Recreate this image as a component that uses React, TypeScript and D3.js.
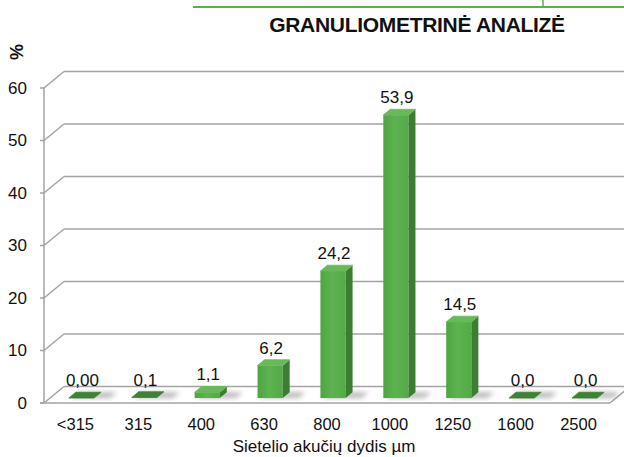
import React from 'react';
import * as d3 from 'd3';

const categories = ['<315', '315', '400', '630', '800', '1000', '1250', '1600', '2500'];
const values = [0, 0.1, 1.1, 6.2, 24.2, 53.9, 14.5, 0, 0];
const valueLabels = ['0,00', '0,1', '1,1', '6,2', '24,2', '53,9', '14,5', '0,0', '0,0'];
const yTicks = [0, 10, 20, 30, 40, 50, 60];

const W = 624;
const H = 457;
const FONT = 'Liberation Sans, Arial, sans-serif';

// oblique depth of the 3D box
const depthX = 20;
const depthY = -16.5;
const f0 = 0.3;
const f1 = 0.65;

export default function App() {
    const x = d3.scaleBand<string>()
        .domain(categories)
        .range([44, 610])
        .paddingInner(0.6)
        .paddingOuter(0.3);

    const y = d3.scaleLinear()
        .domain([0, 60])
        .range([403, 88]);

    const bw = x.bandwidth();
    const ddx = (f1 - f0) * depthX;
    const ddy = (f1 - f0) * depthY;
    const gridColor = '#a3a3a3';

    const pts = (p: number[][]) => p.map(d => d.join(',')).join(' ');

    return (
        <svg width={W} height={H} style={{ position: 'absolute', left: 0, top: 0, background: '#fff' }}>
            <defs>
                <linearGradient id="front" x1="0" x2="1" y1="0" y2="0">
                    <stop offset="0" stopColor="#4fa443" />
                    <stop offset="0.45" stopColor="#5db34f" />
                    <stop offset="1" stopColor="#54aa48" />
                </linearGradient>
                <filter id="blur" x="-50%" y="-50%" width="200%" height="200%">
                    <feGaussianBlur stdDeviation="2.5" />
                </filter>
            </defs>

            {/* top green rule */}
            <line x1={193} x2={W} y1={7} y2={7} stroke="#5aae4a" strokeWidth={2} />
            <line x1={543} x2={543} y1={0} y2={7} stroke="#5aae4a" strokeWidth={1.5} />

            <text x={417} y={32} textAnchor="middle" fontFamily={FONT} fontWeight="bold"
                  fontSize={21} letterSpacing={-0.3} fill="#111">GRANULIOMETRINĖ ANALIZĖ</text>

            <text transform="translate(23,52) rotate(-90)" textAnchor="middle" fontFamily={FONT}
                  fontWeight="bold" fontSize={18} fill="#111">%</text>

            {/* walls / gridlines */}
            {yTicks.map(t => (
                <g key={t}>
                    <line x1={40} x2={44} y1={y(t)} y2={y(t)} stroke={gridColor} strokeWidth={1.5} />
                    <line x1={44} y1={y(t)} x2={44 + depthX} y2={y(t) + depthY} stroke={gridColor} strokeWidth={1.5} />
                    <line x1={44 + depthX} y1={y(t) + depthY} x2={W + 10} y2={y(t) + depthY} stroke={gridColor} strokeWidth={1.5} />
                    <text x={27} y={y(t)} dy="0.35em" textAnchor="end" fontFamily={FONT} fontSize={17} fill="#111">{t}</text>
                </g>
            ))}
            <line x1={44} x2={44} y1={y(60)} y2={y(0)} stroke={gridColor} strokeWidth={1.5} />
            <line x1={40} x2={610} y1={y(0)} y2={y(0)} stroke={gridColor} strokeWidth={1.5} />
            <line x1={610} y1={y(0)} x2={610 + depthX} y2={y(0) + depthY} stroke={gridColor} strokeWidth={1.5} />

            {/* shadows on floor */}
            {categories.map((c, i) => {
                const x0 = (x(c) as number) + f0 * depthX;
                const yb = y(0) + f0 * depthY;
                return (
                    <polygon key={'s' + i} filter="url(#blur)" fill="#8a8a8a" opacity={0.6}
                             points={pts([[x0 + 2, yb], [x0 + bw + 16, yb], [x0 + bw + ddx + 16, yb + ddy], [x0 + ddx + 2, yb + ddy]])} />
                );
            })}

            {/* bars */}
            {categories.map((c, i) => {
                const v = values[i];
                const x0 = (x(c) as number) + f0 * depthX;
                const x1 = x0 + bw;
                const yb = y(0) + f0 * depthY;
                const yt = y(v) + f0 * depthY;
                const flat = yb - yt < 1;
                return (
                    <g key={c}>
                        {!flat && (
                            <>
                                <rect x={x0} y={yt} width={bw} height={yb - yt} fill="url(#front)" />
                                <polygon fill="#3b7e32"
                                         points={pts([[x1, yb], [x1 + ddx, yb + ddy], [x1 + ddx, yt + ddy], [x1, yt]])} />
                            </>
                        )}
                        <polygon fill={flat ? '#3e8235' : '#66bb58'} stroke={flat ? '#3e8235' : '#66bb58'}
                                 strokeWidth={0.8} strokeLinejoin="round"
                                 points={pts([[x0, yt], [x1, yt], [x1 + ddx, yt + ddy], [x0 + ddx, yt + ddy]])} />
                        <text x={x0 + bw / 2 + 1} y={yt - 12} textAnchor="middle" fontFamily={FONT}
                              fontSize={17} fill="#111">{valueLabels[i]}</text>
                    </g>
                );
            })}

            {/* category labels */}
            {categories.map(c => (
                <text key={'l' + c} x={(x(c) as number) + bw / 2} y={430} textAnchor="middle"
                      fontFamily={FONT} fontSize={16.5} fill="#111">{c}</text>
            ))}

            <text x={324} y={452} textAnchor="middle" fontFamily={FONT} fontSize={17} fill="#111">
                Sietelio akučių dydis µm
            </text>
        </svg>
    );
}
